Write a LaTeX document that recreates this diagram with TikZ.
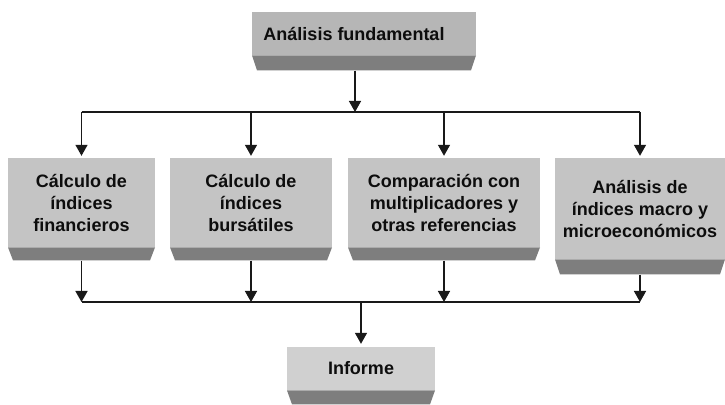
\documentclass[tikz,border=0pt]{standalone}
\usepackage{fontspec}
\setmainfont{Liberation Sans}
\usetikzlibrary{arrows.meta,positioning}
\definecolor{boxlight}{HTML}{C4C4C4}
\definecolor{boxlighttop}{HTML}{B6B6B6}
\definecolor{boxdark}{HTML}{7E7E7E}
\begin{document}
\begin{tikzpicture}[x=1pt,y=1pt,
  lightbox/.style={fill=boxlight, inner sep=0pt, align=center,
    font=\fontsize{18}{22}\selectfont\bfseries, text=black!95},
  stripbox/.style={inner sep=0pt, minimum height=#1,
    path picture={\fill[boxdark] (path picture bounding box.north west)
      -- (path picture bounding box.north east)
      -- ([xshift=-5pt]path picture bounding box.south east)
      -- ([xshift=5pt]path picture bounding box.south west) -- cycle;}},
  conn/.style={line width=1.4pt, draw=black!90},
  arr/.style={conn, -{Triangle[width=12pt,length=11pt]}}]
\useasboundingbox (0,0) rectangle (725,404);
\fill[white] (0,0) rectangle (725,404);

% top box
\node[lightbox, fill=boxlighttop, minimum width=224pt, minimum height=43pt] (A) at (364,370.5)
  {Análisis fundamental\hspace*{20pt}};
\node[stripbox=15pt, minimum width=224pt, below=0pt of A] (As) {};

% middle row
\node[lightbox, minimum width=147pt, minimum height=89pt] (B1) at (81.5,201.5)
  {Cálculo de\\índices\\financieros};
\node[stripbox=13pt, minimum width=147pt, below=0pt of B1] (B1s) {};
\node[lightbox, minimum width=162pt, minimum height=89pt] (B2) at (251,201.5)
  {Cálculo de\\índices\\bursátiles};
\node[stripbox=13pt, minimum width=162pt, below=0pt of B2] (B2s) {};
\node[lightbox, minimum width=192pt, minimum height=89pt] (B3) at (444,201.5)
  {Comparación con\\multiplicadores y\\otras referencias};
\node[stripbox=13pt, minimum width=192pt, below=0pt of B3] (B3s) {};
\node[lightbox, minimum width=170pt, minimum height=101pt] (B4) at (640,195.5)
  {Análisis de\\índices macro y\\microeconómicos};
\node[stripbox=15pt, minimum width=170pt, below=0pt of B4] (B4s) {};

% bottom box
\node[lightbox, fill=boxlight!80!white, minimum width=148pt, minimum height=43pt] (I) at (361,35.5)
  {Informe};
\node[stripbox=14pt, minimum width=148pt, below=0pt of I] (Is) {};

% buses
\coordinate (bus1) at (0,292);
\coordinate (bus2) at (0,102);

\draw[arr] ([xshift=-9pt]As.south) -- ([xshift=-9pt]As.south |- bus1);
\draw[conn] (B1.north |- bus1) -- (B4.north |- bus1);
\foreach \n in {B1,B2,B3,B4}
  \draw[arr, shorten >=2pt] (\n.north |- bus1) -- (\n.north);

\foreach \n in {B1,B2,B3,B4}
  \draw[arr] (\n s.south) -- (\n s.south |- bus2);
\draw[conn] (B1s.south |- bus2) -- (B4s.south |- bus2);
\draw[arr, shorten >=3pt] (I.north |- bus2) -- (I.north);
\end{tikzpicture}
\end{document}
